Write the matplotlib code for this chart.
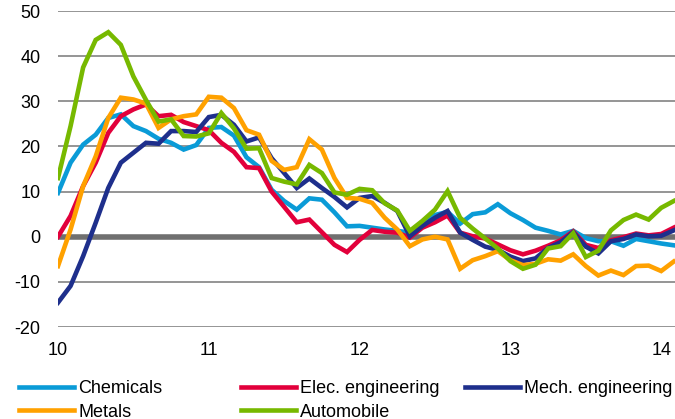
import matplotlib
matplotlib.use("Agg")
import matplotlib.pyplot as plt
import numpy as np

plt.rcParams["font.family"] = ["Liberation Sans", "DejaVu Sans"]
plt.rcParams["axes.unicode_minus"] = False

# monthly values, Jan 2010 onwards (index 0 = "10")
chemicals = [9.7, 16.4, 20.4, 22.6, 26.3, 27.1, 24.5, 23.4, 21.7, 20.8,
             19.3, 20.3, 24.1, 24.3, 22.4, 17.6, 15.4, 10.4, 7.9, 6.0,
             8.5, 8.2, 5.4, 2.3, 2.4, 2.0, 1.6, 1.3, 0.9, 3.2,
             4.8, 5.5, 2.9, 5.0, 5.4, 7.2, 5.2, 3.7, 2.0, 1.3,
             0.5, 1.3, -0.3, -1.0, -1.0, -2.0, -0.5, -1.0, -1.5, -1.9]
elec_eng = [0.0, 4.6, 11.2, 16.4, 23.0, 26.7, 28.2, 29.3, 26.7, 27.0,
            25.4, 24.5, 23.6, 20.8, 18.8, 15.4, 15.2, 10.0, 6.6, 3.2,
            3.8, 1.0, -1.8, -3.4, -0.7, 1.5, 1.1, 0.9, -0.2, 2.0,
            3.2, 4.7, 0.9, 0.1, -0.4, -1.7, -3.0, -3.9, -3.1, -2.0,
            -0.8, 1.2, -1.8, -2.5, -0.8, -0.1, 0.7, 0.3, 0.6, 2.0]
mech_eng = [-14.6, -10.9, -4.3, 3.1, 10.8, 16.4, 18.6, 20.8, 20.6, 23.4,
            23.4, 23.2, 26.5, 27.0, 24.8, 21.1, 22.0, 17.4, 14.1, 10.8,
            12.9, 10.8, 8.8, 6.5, 8.6, 9.0, 7.5, 5.7, 0.1, 2.4,
            4.2, 5.7, 0.9, -0.7, -2.2, -2.9, -4.4, -5.4, -4.8, -2.5,
            -1.2, 1.0, -2.2, -3.7, -1.0, -0.5, 0.5, 0.1, 0.2, 1.4]
metals = [-6.5, 1.6, 11.2, 17.8, 26.3, 30.8, 30.4, 29.5, 24.1, 26.0,
          26.7, 27.1, 31.0, 30.8, 28.5, 23.6, 22.6, 16.8, 14.8, 15.4,
          21.6, 19.3, 13.0, 8.6, 8.4, 7.5, 4.2, 1.6, -2.1, -0.6,
          0.0, -0.6, -7.1, -5.2, -4.3, -3.2, -5.2, -6.3, -6.0, -5.0,
          -5.3, -3.9, -6.5, -8.6, -7.5, -8.5, -6.5, -6.4, -7.6, -5.5]
automobile = [13.0, 24.5, 37.5, 43.6, 45.3, 42.5, 35.5, 30.3, 25.5, 26.0,
              22.3, 22.2, 22.9, 27.4, 24.0, 19.5, 19.6, 13.0, 12.2, 11.6,
              15.9, 14.1, 9.8, 9.3, 10.6, 10.3, 7.4, 5.8, 1.3, 3.5,
              6.0, 10.1, 4.2, 1.8, -0.4, -2.6, -5.4, -7.1, -6.2, -2.6,
              -2.1, 0.8, -4.5, -3.1, 1.4, 3.7, 4.9, 3.8, 6.4, 7.9]

series = [
    ("Chemicals", chemicals, "#0A9BD7"),
    ("Elec. engineering", elec_eng, "#E2003B"),
    ("Mech. engineering", mech_eng, "#1E2F8C"),
    ("Metals", metals, "#FFA100"),
    ("Automobile", automobile, "#77B900"),
]
year_labels = ["10", "11", "12", "13", "14"]

fig = plt.figure(figsize=(6.75, 4.19), dpi=100)
ax = fig.add_axes([58 / 675, 1 - 327 / 419, 1 - 58 / 675, (327 - 11) / 419])

months = np.arange(len(chemicals))
lines = {}
for name, vals, col in series:
    (ln,) = ax.plot(months, vals, color=col, lw=3.3, label=name,
                    solid_joinstyle="miter", zorder=3)
    lines[name] = ln

ax.set_ylim(-20, 50)
ax.set_xlim(0, 49.1)
ax.set_yticks(range(-20, 51, 10))
for y in range(-20, 51, 10):
    if y == 0:
        ax.axhline(0, color="#707070", lw=4, zorder=2)
    else:
        ax.axhline(y, color="#8c8c8c", lw=1.3, zorder=1)

ax.set_xticks(np.arange(len(year_labels)) * 12, year_labels)
ax.tick_params(axis="both", length=0, labelsize=13, colors="#000000")
ax.tick_params(axis="y", pad=12.5)
ax.tick_params(axis="x", pad=11)
for s in ax.spines.values():
    s.set_visible(False)

leg_kw = dict(frameon=False, fontsize=13, handlelength=3.05, handletextpad=0.22,
              borderpad=0, borderaxespad=0, labelspacing=0.36, loc="upper left")
top = 1 - 380 / 419
fig.legend([lines["Chemicals"], lines["Metals"]], ["Chemicals", "Metals"],
           bbox_to_anchor=(19 / 675, top), **leg_kw)
fig.legend([lines["Elec. engineering"], lines["Automobile"]],
           ["Elec. engineering", "Automobile"],
           bbox_to_anchor=(241 / 675, top), **leg_kw)
fig.legend([lines["Mech. engineering"]], ["Mech. engineering"],
           bbox_to_anchor=(465 / 675, top), **leg_kw)

fig.savefig("out.png", dpi=100)
